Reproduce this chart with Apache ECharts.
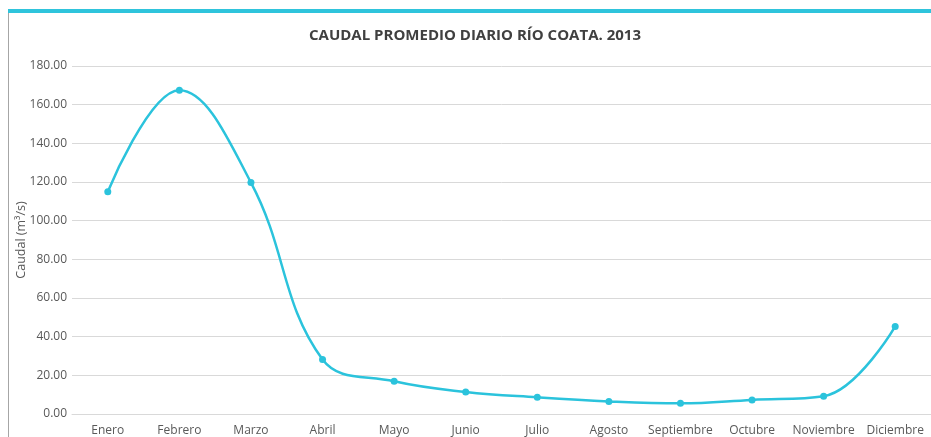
<!DOCTYPE html>
<html>
<head>
<meta charset="utf-8">
<script src="https://cdn.jsdelivr.net/npm/echarts@6/dist/echarts.min.js"></script>
<style>
html,body{margin:0;padding:0;background:#fff;}
#c{width:931px;height:437px;}
</style>
</head>
<body>
<div id="c"></div>
<script>
const titleText = 'CAUDAL PROMEDIO DIARIO RÍO COATA. 2013';
const yAxisName = 'Caudal (m³/s)';
const months = ['Enero','Febrero','Marzo','Abril','Mayo','Junio','Julio','Agosto','Septiembre','Octubre','Noviembre','Diciembre'];
const caudal = [115.0, 167.5, 119.7, 28.2, 16.9, 11.4, 8.6, 6.5, 5.5, 7.3, 9.2, 45.3];

const chart = echarts.init(document.getElementById('c'), null, {renderer:'canvas'});
const font = '"Open Sans", Lato, sans-serif';
chart.setOption({
  animation: false,
  backgroundColor: '#fff',
  title: {
    text: titleText,
    left: 470, top: 23, textAlign: 'center',
    textStyle: {fontFamily: font, fontWeight: 'bold', fontSize: 15, color: '#404040'}
  },
  graphic: [
    {type:'rect', shape:{x:8, y:9, width:923, height:4}, style:{fill:'#2fc4dc'}, silent:true},
    {type:'rect', shape:{x:8, y:13, width:1, height:424}, style:{fill:'#a6a6a6'}, silent:true}
  ],
  grid: {left: 72, top: 66, width: 863, height: 351, containLabel: false},
  xAxis: {
    type: 'category', data: months, boundaryGap: true,
    axisLine: {show: true, lineStyle: {color: '#d9d9d9', width: 1}},
    axisTick: {show: false},
    axisLabel: {color: '#595959', fontFamily: font, fontSize: 12, margin: 11, interval: 0}
  },
  yAxis: {
    type: 'value', min: 0, max: 180, interval: 20,
    name: yAxisName, nameLocation: 'middle', nameGap: 44, nameRotate: 90,
    nameMoveOverlap: false,
    nameTextStyle: {color: '#595959', fontFamily: font, fontSize: 12.5},
    axisLine: {show: false}, axisTick: {show: false},
    axisLabel: {color: '#595959', fontFamily: font, fontSize: 12, margin: 5, formatter: v => v.toFixed(2)},
    splitLine: {lineStyle: {color: '#d9d9d9', width: 1}}
  },
  series: [{
    type: 'line', data: caudal, smooth: 0.4,
    symbol: 'circle', symbolSize: 7,
    lineStyle: {color: '#2bc3dc', width: 2.5},
    itemStyle: {color: '#2bc3dc'}
  }]
});
</script>
</body>
</html>
